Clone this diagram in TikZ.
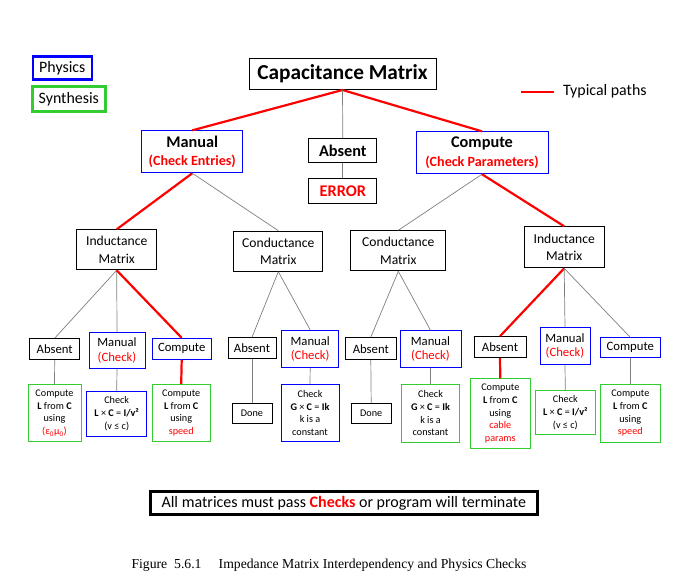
\documentclass[tikz,border=0pt]{standalone}
\usepackage{fontspec}
\setmainfont{Carlito}
\newfontfamily\capfont{Liberation Serif}
\usepackage{tikz}
\usetikzlibrary{positioning}
\definecolor{physblue}{HTML}{0000FF}
\definecolor{synthgreen}{HTML}{33CC33}
\definecolor{redx}{HTML}{FF0000}
\definecolor{greyx}{HTML}{7F7F7F}
\tikzset{
  ln/.style={greyx,line width=0.7pt},
  typ/.style={redx,line width=2.2pt},
  box/.style={draw=black,line width=1pt,align=center,inner sep=0pt},
  phys/.style={box,draw=physblue,line width=0.9pt},
  synth/.style={box,draw=synthgreen,line width=1pt},
  sz/.style 2 args={minimum width=#1pt,minimum height=#2pt},
  big/.style={font=\fontsize{21.3}{25}\selectfont\bfseries},
  head/.style={font=\fontsize{16.3}{18.3}\selectfont\bfseries},
  mat/.style={font=\fontsize{13.6}{17.7}\selectfont},
  opt/.style={font=\fontsize{12.7}{14.5}\selectfont},
  leaf/.style={font=\fontsize{10.2}{12.7}\selectfont},
  lgd/.style={font=\fontsize{15.9}{18}\selectfont}
}
\newcommand{\chk}[1]{\textcolor{redx}{#1}}
\begin{document}
\begin{tikzpicture}[x=1pt,y=-1pt]
\useasboundingbox (0,0) rectangle (682,585);
% legend
\node[box,draw=physblue,line width=2.6pt,sz={59}{23},lgd] (lgphys) at (62.3,68.3) {Physics};
\node[box,draw=synthgreen,line width=2.6pt,sz={73}{25},lgd] (lgsynth) at (68.8,99.3) {Synthesis};
\coordinate (lga) at (521,92);
\coordinate (lgb) at (554,92);
\draw[typ] (lga) -- (lgb);
\node[anchor=west,inner sep=0pt,lgd] (lgtext) at (563,91) {Typical paths};
% top levels
\node[box,big,sz={187}{31}] (cap) at (342.5,74) {Capacitance Matrix};
\node[box,head,sz={68}{24}] (absent) at (342.8,150.8) {Absent};
\node[box,head,sz={68}{25}] (err) at (342.8,191.3) {\chk{ERROR}};
\node[phys,head,sz={101}{42}] (manual) at (192.3,151.8) {Manual\\{\fontsize{14.1}{16}\selectfont\chk{(Check Entries)}}};
\node[phys,head,sz={132}{42}] (compute) at (482,152.8) {Compute\\{\fontsize{14.1}{16}\selectfont\chk{(Check Parameters)}}};
% matrices
\node[box,mat,sz={80}{40}] (indL) at (116.7,249.8) {Inductance\\Matrix};
\node[box,mat,sz={89}{40}] (condL) at (278.3,251.2) {Conductance\\Matrix};
\node[box,mat,sz={95}{40}] (condR) at (398.3,250.8) {Conductance\\Matrix};
\node[box,mat,sz={80}{41}] (indR) at (564.2,247.3) {Inductance\\Matrix};
% options
\node[box,opt,sz={50}{21}] (absA) at (54.7,349.2) {Absent};
\node[phys,opt,sz={56}{36}] (manA) at (117,350.3) {Manual\\\chk{(Check)}};
\node[phys,opt,sz={59}{21}] (compA) at (181.7,348.8) {Compute};
\node[box,opt,sz={48}{21}] (absB) at (252,348.2) {Absent};
\node[phys,opt,sz={57}{37}] (manB) at (310.2,348.8) {Manual\\\chk{(Check)}};
\node[box,opt,sz={51}{22}] (absC) at (370.8,348.7) {Absent};
\node[phys,opt,sz={61}{37}] (manC) at (430.5,349.2) {Manual\\\chk{(Check)}};
\node[box,opt,sz={52}{21}] (absD) at (500,347.2) {Absent};
\node[phys,opt,sz={50}{37}] (manD) at (565,346.2) {Manual\\\chk{(Check)}};
\node[phys,opt,sz={60}{20}] (compD) at (630.3,347.8) {Compute};
% leaves
\node[synth,leaf,sz={53}{57}] (leafA1) at (54.5,413) {Compute\\\textbf{L} from \textbf{C}\\using\\\chk{(ε\textsubscript{0}μ\textsubscript{0})}};
\node[phys,leaf,sz={60}{45}] (leafA2) at (116.7,413.8) {Check\\\textbf{L} × \textbf{C} = \textbf{I/v²}\\(v ≤ c)};
\node[synth,leaf,sz={58}{57}] (leafA3) at (181.2,413) {Compute\\\textbf{L} from \textbf{C}\\using\\\chk{speed}};
\node[box,leaf,sz={40}{20}] (leafB1) at (252,413.7) {Done};
\node[phys,leaf,sz={58}{57}] (leafB2) at (310,413) {Check\\\textbf{G} × \textbf{C} = \textbf{Ik}\\k is a\\constant};
\node[box,leaf,sz={40}{20}] (leafC1) at (371.2,413.7) {Done};
\node[synth,leaf,sz={58}{58}] (leafC2) at (430.5,413.3) {Check\\\textbf{G} × \textbf{C} = \textbf{Ik}\\k is a\\constant};
\node[synth,leaf,sz={60}{70}] (leafD1) at (500.3,413.8) {Compute\\\textbf{L} from \textbf{C}\\using\\\chk{cable}\\\chk{params}};
\node[synth,leaf,sz={60}{44}] (leafD2) at (565.3,412.7) {Check\\\textbf{L} × \textbf{C} = \textbf{I/v²}\\(v ≤ c)};
\node[synth,leaf,sz={60}{58}] (leafD3) at (630.3,413.3) {Compute\\\textbf{L} from \textbf{C}\\using\\\chk{speed}};
% note and caption
\node[box,line width=2.6pt,sz={387}{23},font=\fontsize{16}{18}\selectfont] (note) at (343.8,503.2) {All matrices must pass \textbf{\chk{Checks}} or program will terminate};
\node[inner sep=0pt,font=\capfont\fontsize{13.7}{16}\selectfont] (caption) at (329,565) {Figure\ \ 5.6.1\quad\ Impedance Matrix Interdependency and Physics Checks};
% connectors
\draw[typ] (cap.south) -- (manual.north);
\draw[typ] (cap.south) -- (compute.north);
\draw[ln] (cap.south) -- (absent.north);
\draw[ln] (absent.south) -- (err.north);
\draw[typ] (manual.south) -- (indL.north);
\draw[ln] (manual.south) -- (condL.north);
\draw[ln] (compute.south) -- (condR.north);
\draw[typ] (compute.south) -- (indR.north);
\draw[ln] (indL.south) -- (absA.north);
\draw[ln] (indL.south) -- (manA.north);
\draw[typ] (indL.south) -- (compA.north);
\draw[ln] (condL.south) -- (absB.north);
\draw[ln] (condL.south) -- (manB.north);
\draw[ln] (condR.south) -- (absC.north);
\draw[ln] (condR.south) -- (manC.north);
\draw[typ] (indR.south) -- (absD.north);
\draw[ln] (indR.south) -- (manD.north);
\draw[ln] (indR.south) -- (compD.north);
\draw[ln] (absA.south) -- (leafA1.north);
\draw[ln] (manA.south) -- (leafA2.north);
\draw[typ] (compA.south) -- (leafA3.north);
\draw[ln] (absB.south) -- (leafB1.north);
\draw[ln] (manB.south) -- (leafB2.north);
\draw[ln] (absC.south) -- (leafC1.north);
\draw[ln] (manC.south) -- (leafC2.north);
\draw[typ] (absD.south) -- (leafD1.north);
\draw[ln] (manD.south) -- (leafD2.north);
\draw[ln] (compD.south) -- (leafD3.north);
\end{tikzpicture}
\end{document}
